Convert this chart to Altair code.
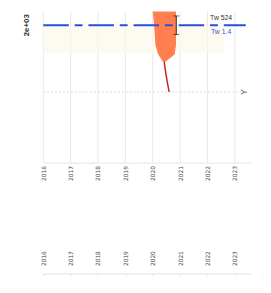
import altair as alt
import pandas as pd

# tick labels (unreadable in reference; approximated)
top_labels = ["2016", "2017", "2018", "2019", "2020", "2021", "2022", "2023"]
bottom_labels = ["2016", "2017", "2018", "2019", "2020", "2021", "2022", "2023", "2024"]

# orange band (y value, left x, right x)
band_y = [2205, 2000, 1700, 1560, 1450]
band_lo = [4.0, 4.05, 4.1, 4.2, 4.38]
band_hi = [4.85, 4.85, 4.85, 4.8, 4.45]

# red line
line_y = [1450, 1300, 1150, 1000]
line_x = [4.42, 4.47, 4.53, 4.6]

# error bar
err_x = [4.86]
err_lo = [1860]
err_hi = [2140]

ref_value = 2000
ref_label = "2e+03"
ref_x0, ref_x1 = 0, 7.4
texts = ["Tw 524", "Tw 1.4"]

STEP = 28
XMAX = 7.6
W = int(XMAX * STEP)
xscale = alt.Scale(domain=[0, XMAX], nice=False, zero=False)
yscale = alt.Scale(domain=[-60, 2205], nice=False, zero=False)

lab_top = "[" + ",".join('"%s"' % s for s in top_labels) + "][datum.value]"
lab_bot = "[" + ",".join('"%s"' % s for s in bottom_labels) + "][datum.value]"

band = pd.DataFrame({"y": band_y, "lo": band_lo, "hi": band_hi})
line = pd.DataFrame({"y": line_y, "x": line_x})
err = pd.DataFrame({"x": err_x, "lo": err_lo, "hi": err_hi})
ref = pd.DataFrame({"x": [ref_x0], "x2": [ref_x1], "y": [ref_value]})
txt = pd.DataFrame({"x": [6.5, 6.5], "y": [2110, 1900], "t": texts, "c": ["#333333", "#3355cc"]})

xaxis_top = alt.Axis(values=list(range(len(top_labels))), labelExpr=lab_top, labelAngle=-90,
                     labelFontSize=6, labelColor="#444", domain=True, domainColor="#e6e6e6",
                     ticks=False, grid=False, labelPadding=3, labelOverlap=False)

X = lambda f: alt.X(f, scale=xscale, axis=xaxis_top, title=None)
Y = lambda f: alt.Y(f, scale=yscale, axis=None, title=None)

base_grid = alt.Chart(pd.DataFrame({"x": list(range(len(top_labels)))})).mark_rule(color="#e8e8e8", strokeWidth=1).encode(
    x=X("x:Q"),
)
hgrid = alt.Chart(pd.DataFrame({"y": [1000]})).mark_rule(color="#d8d8d8", strokeDash=[2, 2]).encode(
    y=Y("y:Q"), x=alt.value(0), x2=alt.value(W - 10),
)
tint = alt.Chart(pd.DataFrame({"x": [0], "x2": [6.6], "y": [1980], "y2": [1580]})).mark_rect(color="#fcfae8", opacity=0.7).encode(
    x=X("x:Q"), x2="x2", y=Y("y:Q"), y2="y2")
area = alt.Chart(band).mark_area(color="#ff7f50", orient="horizontal").encode(
    y=Y("y:Q"), x=X("lo:Q"), x2="hi")
red = alt.Chart(line).mark_line(color="#cc2020", strokeWidth=1.5).encode(
    y=Y("y:Q"), x=X("x:Q"), order="y:Q")
refl = alt.Chart(ref).mark_rule(color="#2a4fd6", strokeWidth=2, strokeDash=[26, 6, 8, 6]).encode(
    x=X("x:Q"), x2="x2", y=Y("y:Q"))
errb = alt.Chart(err).mark_errorbar(ticks=alt.MarkConfig(size=6, color="#222"), color="#222").encode(
    x=X("x:Q"), y=Y("lo:Q"), y2="hi")
labels = alt.Chart(txt).mark_text(fontSize=7, align="center").encode(
    x=X("x:Q"), y=Y("y:Q"), text="t:N",
    color=alt.Color("c:N", scale=None))
ylab = alt.Chart(pd.DataFrame({"x": [7.35], "y": [1000], "t": ["Y"]})).mark_text(
    fontSize=9, angle=270, color="#555").encode(
    x=X("x:Q"), y=Y("y:Q"), text="t:N")
reflab = alt.Chart(pd.DataFrame({"y": [ref_value], "t": [ref_label]})).mark_text(
    fontSize=8, fontWeight="bold", angle=270, color="#333", align="center", baseline="middle").encode(
    x=alt.value(-17), y=Y("y:Q"), text="t:N")

top = alt.layer(base_grid, hgrid, tint, area, red, refl, errb, labels, ylab, reflab).properties(width=W, height=154)

xaxis_bot = alt.Axis(values=list(range(len(bottom_labels))), labelExpr=lab_bot, labelAngle=-90,
                     labelFontSize=6, labelColor="#444", domain=True, domainColor="#e0e0e0",
                     ticks=False, gridColor="#e6e6e6", orient="top", labelPadding=8, labelOverlap=False)
bottom = alt.Chart(pd.DataFrame({"x": list(range(len(bottom_labels)))})).mark_rule(color="#e8e8e8").encode(
    x=alt.X("x:Q", scale=xscale, axis=xaxis_bot, title=None)
).properties(width=W, height=2)

chart = alt.vconcat(top, bottom, spacing=70).properties(
    padding={"left": 15, "top": 0, "right": 0, "bottom": 0}
).configure_view(stroke=None).configure_axis(labelFont="DejaVu Sans", labelOverlap=False)

chart.save("out.html", embed_options={"renderer": "svg", "actions": False})
